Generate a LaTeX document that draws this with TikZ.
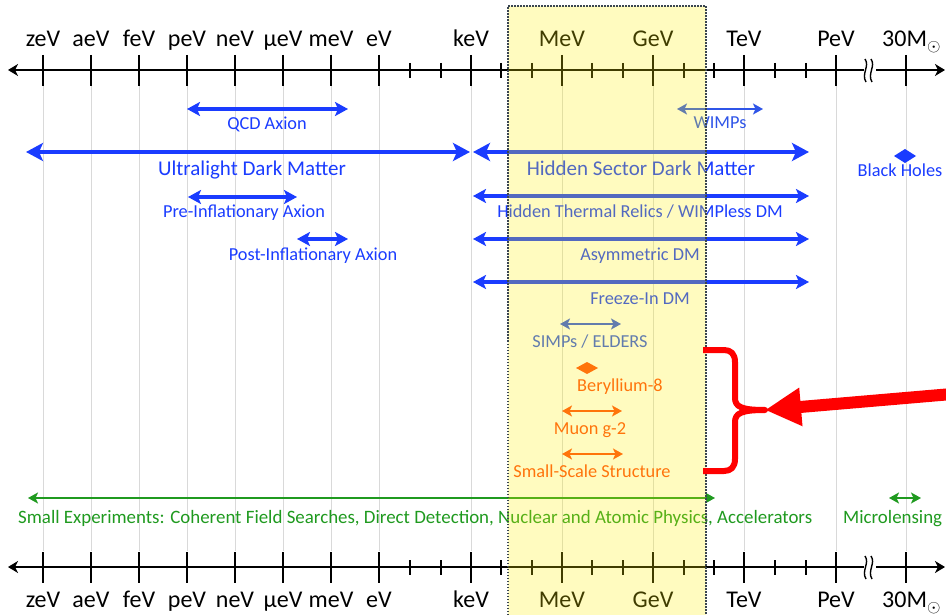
\documentclass[tikz,border=0pt]{standalone}
\usepackage{fontspec}
\setmainfont{Carlito}
\newfontfamily\axisfont{Carlito}
\usetikzlibrary{arrows.meta}
\definecolor{dmblue}{HTML}{1A3CFF}
\definecolor{lblue}{HTML}{2F55E8}
\definecolor{dmorange}{HTML}{FF4A10}
\definecolor{dmgreen}{HTML}{1F9A1F}
\definecolor{boxline}{HTML}{3A4550}
\begin{document}
\begin{tikzpicture}[x=1pt,y=-1pt,
  axisline/.style={line width=2.6pt,black,{Stealth[length=10pt,width=12pt,inset=3pt]}-{Stealth[length=10pt,width=12pt,inset=3pt]}},
  majortick/.style={line width=2.2pt,black},
  minortick/.style={line width=1.8pt,black},
  gridline/.style={gray!30,line width=0.7pt},
  axlabel/.style={font=\axisfont\fontsize{24}{24}\selectfont,anchor=base,inner sep=0pt},
  lab/.style={font=\fontsize{18.3}{18.3}\selectfont,anchor=base,inner sep=0pt},
  biglab/.style={font=\fontsize{21}{21}\selectfont,anchor=base,inner sep=0pt},
  bigarrow/.style={dmblue,line width=4pt,{Stealth[length=17pt,width=18pt,inset=4pt]}-{Stealth[length=17pt,width=18pt,inset=4pt]}},
  medarrow/.style={dmblue,line width=3.2pt,{Stealth[length=13pt,width=14pt,inset=3pt]}-{Stealth[length=13pt,width=14pt,inset=3pt]}},
  thinarrow/.style={line width=2pt,{Stealth[length=10pt,width=11pt,inset=2.5pt]}-{Stealth[length=10pt,width=11pt,inset=2.5pt]}},
  brace/.style={red,line width=6pt,line join=round,line cap=butt},
]
\useasboundingbox (0,0) rectangle (946,615);
\fill[white] (0,0) rectangle (946,615);

% grid lines
\foreach \x in {43,91,139,187,235,283,331,379,471,562,653,744,836,906}
  \draw[gridline] (\x,86) -- (\x,551);

% axes
\foreach \y/\s in {70/t,567/b}{
  \coordinate (\s L) at (8,\y);
  \coordinate (\s R) at (945,\y);
  \draw[axisline] (\s L) -- (\s R);
  \foreach \x in {43,91,139,187,235,283,331,379,471,562,653,744,836,906}
    \draw[majortick] (\x,\y-15) -- (\x,\y+16);
  \foreach \x in {410,441,501,532,592,623,684,714,775,806}
    \draw[minortick] (\x,\y-7) -- (\x,\y+8);
  \fill[white] (864,\y-4) rectangle (876,\y+4);
  \draw[line width=1.4pt] (865,\y-11) .. controls (870,\y-4) and (861,\y+4) .. (866,\y+12);
  \draw[line width=1.4pt] (871,\y-11) .. controls (876,\y-4) and (867,\y+4) .. (872,\y+12);
}

% axis labels
\foreach \x/\t/\n in {43/zeV/zeV,91/aeV/aeV,139/feV/feV,187/peV/peV,235/neV/neV,283/μeV/mueV,331/meV/meV,379/eV/eV,471/keV/keV,562/MeV/MeV,653/GeV/GeV,744/TeV/TeV,836/PeV/PeV}{
  \node[axlabel] (top\n) at (\x,47) {\t};
  \node[axlabel] (bot\n) at (\x,607) {\t};
}
\node[axlabel,anchor=base west] (topmsun) at (882,47) {30M\raisebox{-5pt}{\fontsize{17}{17}\selectfont$\odot$}};
\node[axlabel,anchor=base west] (botmsun) at (882,607) {30M\raisebox{-5pt}{\fontsize{17}{17}\selectfont$\odot$}};

% blue arrows
\draw[medarrow] (187,109) -- (348,109);
\node[lab,dmblue] (qcd) at (267,130) {QCD Axion};
\draw[bigarrow] (26,152) -- (470,152);
\node[biglab,dmblue] (uldm) at (252,176) {Ultralight Dark Matter};
\draw[medarrow] (188,197) -- (297,197);
\node[lab,dmblue] (prei) at (244,218) {Pre-Inflationary Axion};
\draw[medarrow] (297,239) -- (348,239);
\node[lab,dmblue] (posti) at (313,260) {Post-Inflationary Axion};

\draw[thinarrow,lblue] (677,109) -- (763,109);
\node[lab,lblue] (wimps) at (720,129) {WIMPs};
\draw[bigarrow] (473,152) -- (809,152);
\node[biglab,dmblue] (hsdm) at (641,176) {Hidden Sector Dark Matter};
\draw[medarrow] (473,196) -- (809,196);
\node[lab,dmblue] (htr) at (640,218) {Hidden Thermal Relics / WIMPless DM};
\draw[medarrow] (473,239) -- (809,239);
\node[lab,dmblue] (adm) at (640,260) {Asymmetric DM};
\draw[medarrow] (473,282) -- (809,282);
\node[lab,dmblue] (fidm) at (640,304) {Freeze-In DM};

\fill[dmblue] (894,156) -- (905,149) -- (916,156) -- (905,163) -- cycle;
\node[lab,dmblue] (bh) at (900,177) {Black Holes};

\draw[thinarrow,lblue] (560,324) -- (621,324);
\node[lab,lblue] (simps) at (590,347) {SIMPs / ELDERS};

% orange
\fill[dmorange] (576,368) -- (587,362) -- (598,368) -- (587,374) -- cycle;
\node[lab,dmorange] (be8) at (620,391) {Beryllium-8};
\draw[thinarrow,dmorange] (562,411) -- (622,411);
\node[lab,dmorange] (muon) at (590,434) {Muon g-2};
\draw[thinarrow,dmorange] (562,454) -- (623,454);
\node[lab,dmorange] (sss) at (592,477) {Small-Scale Structure};

% green
\draw[thinarrow,dmgreen] (28,498) -- (715,498);
\node[lab,dmgreen,anchor=base west,font=\fontsize{18.9}{18.9}\selectfont] (smallexp) at (18,523) {Small Experiments: Coherent Field Searches, Direct Detection, Nuclear and Atomic Physics, Accelerators};
\draw[thinarrow,dmgreen] (889,498) -- (921,498);
\node[lab,dmgreen,anchor=base west,font=\fontsize{18.9}{18.9}\selectfont] (micro) at (843,523) {Microlensing};

% highlighted box
\fill[yellow,opacity=0.25] (508,6) rectangle (706,615);
\draw[boxline,line width=1.5pt,dash pattern=on 1.5pt off 1.5pt] (508,615) -- (508,6) -- (706,6) -- (706,615);

% red brace and arrow
\coordinate (bracetip) at (765,410);
\coordinate (arrowstart) at (952,394);
\draw[brace] (703,350) -- (724,350) .. controls (731,350) and (735,354) .. (735,362) -- (735,398)
  .. controls (735,407) and (742,410) .. (bracetip)
  .. controls (742,410) and (735,413) .. (735,422) -- (735,459)
  .. controls (735,467) and (731,471) .. (724,471) -- (703,471);
\draw[red,line width=12pt,-{Triangle[length=36pt,width=36pt]}] (arrowstart) -- (bracetip);
\end{tikzpicture}
\end{document}
